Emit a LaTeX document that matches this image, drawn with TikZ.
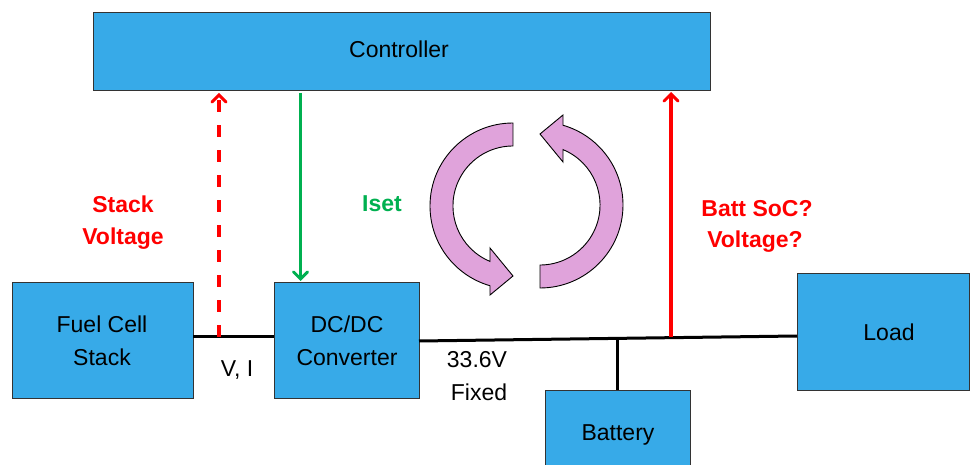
\documentclass[tikz,border=0pt]{standalone}
\usepackage{fontspec}
\setmainfont{Liberation Sans}
\usetikzlibrary{arrows.meta}
\definecolor{boxblue}{RGB}{55,170,232}
\definecolor{cyclepink}{RGB}{224,163,219}
\definecolor{sigred}{RGB}{255,0,0}
\definecolor{siggreen}{RGB}{0,176,80}
\tikzset{
  blockbox/.style={draw=black!80, line width=0.8pt, fill=boxblue},
  lbl/.style={anchor=base, font=\fontsize{23}{32}\selectfont, inner sep=0pt, align=center},
  redlbl/.style={lbl, text=sigred, font=\fontsize{23}{32}\selectfont\bfseries},
  greenlbl/.style={lbl, text=siggreen, font=\fontsize{23}{32}\selectfont\bfseries},
  bus/.style={line width=3pt, black},
  sigtip/.style={-{Straight Barb[length=7pt,width=14pt,line width=3pt,line cap=round]}},
  cycle arrow/.style={fill=cyclepink, draw=black, line width=0.9pt, line join=miter},
}
\begin{document}
\begin{tikzpicture}[x=1pt,y=-1pt]
\useasboundingbox (0,0) rectangle (970,465);
% boxes
\draw[blockbox] (93,12) rectangle (710,90);
\draw[blockbox] (12,282) rectangle (193,398);
\draw[blockbox] (274,282) rectangle (419,398);
\draw[blockbox] (797,273) rectangle (969,390);
\draw[blockbox] (545,390) rectangle (690,470);
% box texts
\node[lbl] (ctrl) at (399,58) {Controller};
\node[lbl] (fc1) at (102,333) {Fuel Cell};
\node[lbl] (fc2) at (102,365) {Stack};
\node[lbl] (dc1) at (347,333) {DC/DC};
\node[lbl] (dc2) at (347,365) {Converter};
\node[lbl] (load) at (889,341) {Load};
\node[lbl] (batt) at (618,440) {Battery};
% named points
\coordinate (fcR) at (193,337);
\coordinate (dcL) at (274,337);
\coordinate (dcR) at (419,341);
\coordinate (loadL) at (797,336);
\coordinate (junc) at (617,338.8);
\coordinate (battT) at (617,390);
\coordinate (vtap) at (219,337);
\coordinate (vtip) at (219,93);
\coordinate (btap) at (671,337.5);
\coordinate (btip) at (671,92);
\coordinate (gsrc) at (300.5,93);
\coordinate (gdst) at (300.5,281);
% bus lines
\draw[bus] (fcR) -- (dcL);
\draw[bus] (dcR) -- (loadL);
\draw[bus] (junc) -- (battT);
% signal arrows
\draw[sigred, line width=3.2pt, dash pattern=on 12pt off 13pt, sigtip] (vtap) -- (vtip);
\draw[sigred, line width=3.2pt, sigtip] (btap) -- (btip);
\draw[siggreen, line width=3pt, sigtip] (gsrc) -- (gdst);
% labels
\node[redlbl] (sv1) at (123,213) {Stack};
\node[redlbl] (sv2) at (123,245) {Voltage};
\node[greenlbl] (iset) at (382,212) {Iset};
\node[redlbl] (bs1) at (757,216.5) {Batt SoC?};
\node[redlbl] (bs2) at (755,248) {Voltage?};
\node[lbl] (vi) at (237,376) {V, I};
\node[lbl] (v336) at (477,367) {33.6V};
\node[lbl] (fixed) at (479,400) {Fixed};
% cycle arrows
\draw[cycle arrow] (513,123) arc[start angle=-90, end angle=-253.9, radius=83]
  -- (490,295) -- (513,276) -- (490,248) -- (490,261.4)
  arc[start angle=-247.5, end angle=-90, radius=60] -- cycle;
\draw[cycle arrow] (540,288) arc[start angle=90, end angle=-73.9, radius=83]
  -- (563,115) -- (540,134) -- (563,162) -- (563,149.6)
  arc[start angle=-67.5, end angle=90, radius=60] -- cycle;
\end{tikzpicture}
\end{document}
